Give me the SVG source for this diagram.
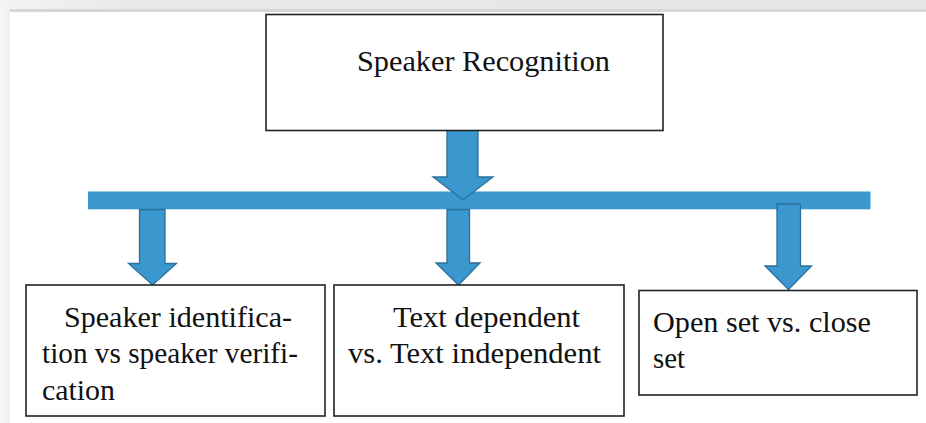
<svg xmlns="http://www.w3.org/2000/svg" width="926" height="423" viewBox="0 0 926 423">
  <defs>
    <linearGradient id="topband" x1="0" y1="0" x2="1" y2="0">
      <stop offset="0" stop-color="#f4f4f4"/>
      <stop offset="0.15" stop-color="#e8e8e8"/>
      <stop offset="1" stop-color="#e6e6e6"/>
    </linearGradient>
    <linearGradient id="leftband" x1="0" y1="0" x2="1" y2="0">
      <stop offset="0" stop-color="#f7f7f7"/>
      <stop offset="1" stop-color="#eeeeee"/>
    </linearGradient>
  </defs>
  <style>
    .box { fill: #ffffff; stroke: #222222; stroke-width: 1.6; }
    .lbl { font-family: "Liberation Serif", "Times New Roman", serif; font-size: 30px; fill: #111111; }
    .arr { fill: #3a98cf; stroke: #2b6f9c; stroke-width: 1.3; stroke-linejoin: miter; }
    .bar { fill: #3a98cf; }
  </style>
  <rect x="0" y="0" width="926" height="423" fill="#ffffff"/>
  <rect x="0" y="0" width="10" height="423" fill="url(#leftband)"/>
  <rect x="0" y="0" width="926" height="9" fill="url(#topband)"/>
  <rect x="10" y="9" width="916" height="3" fill="#d6d6d6"/>

  <g id="connectors">
    <rect class="bar" x="88" y="191.5" width="782.5" height="17.8"/>
    <path class="arr" d="M447,130 H478 V177 H493 L463,200 L433,177 H447 Z"/>
    <path class="arr" d="M139.5,209.5 H165 V263.5 H176.5 L152.5,285 L128.5,263.5 H139.5 Z"/>
    <path class="arr" d="M447,209.5 H469.5 V263 H480 L458.5,285 L436,263 H447 Z"/>
    <path class="arr" d="M777,204 H800.5 V266 H811.5 L788.5,289.5 L765,266 H777 Z"/>
  </g>

  <g id="speaker-recognition">
    <rect class="box" x="266" y="14.5" width="397" height="116"/>
    <text class="lbl" x="357" y="71" textLength="253" lengthAdjust="spacingAndGlyphs">Speaker Recognition</text>
  </g>

  <g id="identification-verification">
    <rect class="box" x="26" y="285" width="299" height="131"/>
    <text class="lbl" x="64" y="327" textLength="228" lengthAdjust="spacingAndGlyphs">Speaker identifica-</text>
    <text class="lbl" x="42" y="363" textLength="256" lengthAdjust="spacingAndGlyphs">tion vs speaker verifi-</text>
    <text class="lbl" x="42" y="400" textLength="73" lengthAdjust="spacingAndGlyphs">cation</text>
  </g>

  <g id="text-dependent">
    <rect class="box" x="334" y="285" width="290" height="131"/>
    <text class="lbl" x="393" y="327" textLength="187" lengthAdjust="spacingAndGlyphs">Text dependent</text>
    <text class="lbl" x="348" y="363" textLength="253" lengthAdjust="spacingAndGlyphs">vs. Text independent</text>
  </g>

  <g id="open-close-set">
    <rect class="box" x="639" y="290.5" width="278" height="104.5"/>
    <text class="lbl" x="653" y="332" textLength="218" lengthAdjust="spacingAndGlyphs">Open set vs. close</text>
    <text class="lbl" x="653" y="368" textLength="32" lengthAdjust="spacingAndGlyphs">set</text>
  </g>
</svg>
